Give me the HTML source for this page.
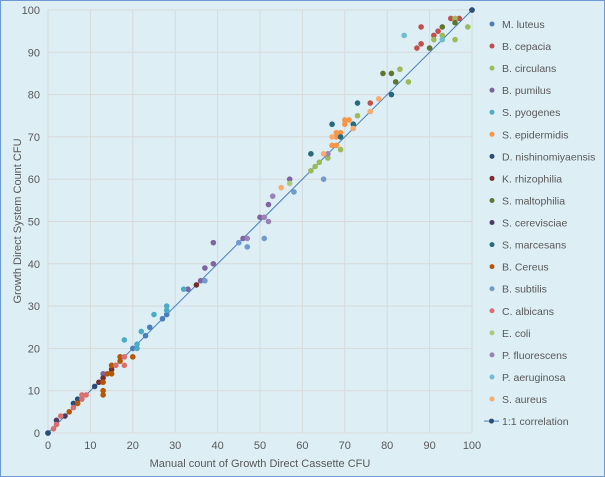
<!DOCTYPE html>
<html><head><meta charset="utf-8"><style>
html,body{margin:0;padding:0;}
body{width:605px;height:477px;overflow:hidden;background:#ddeef5;font-family:"Liberation Sans",sans-serif;}
#frame{position:absolute;left:0;top:0;width:603px;height:475px;border:1px solid #6d9ad0;background:#ddeef5;}
</style></head><body>
<div id="frame"></div>
<svg id="chart" width="605" height="477" style="position:absolute;left:0;top:0"></svg>
<script>
const xTicks=[0,10,20,30,40,50,60,70,80,90,100];
const yTicks=[0,10,20,30,40,50,60,70,80,90,100];
const seriesNames=["M. luteus","B. cepacia","B. circulans","B. pumilus","S. pyogenes","S. epidermidis","D. nishinomiyaensis","K. rhizophilia","S. maltophilia","S. cerevisciae","S. marcesans","B. Cereus","B. subtilis","C. albicans","E. coli","P. fluorescens","P. aeruginosa","S. aureus"];
const seriesColors=["#4a7ebb","#c0504d","#9bbb59","#8064a2","#4bacc6","#f79646","#2c4d75","#772c2a","#5f7530","#4d3b62","#276a7c","#b65708","#729aca","#d9706e","#afc97a","#9983b5","#6fbdd1","#f9ab6b"];
const seriesX=[
[20,23,24,27,28,100],
[95,97,88,91,92,88,87,76],
[96,99,93,91,96,83,85,73,69,64,63,62,66],
[13,33,36,37,39,39,46,50,52,57],
[18,21,21,22,25,28,28,32],
[70,71,70,68,69,68,67,68],
[6,7,11],
[12,13,15,35],
[93,96,90,79,81,82],
[0,2,4],
[81,73,72,67,69,62],
[5,7,13,13,13,14,15,15,17,17,20],
[37,45,47,51,58,65],
[1.3,2,3,6,8,8,9,16,18,18],
[57],
[47,51,52,53,66],
[84,93],
[55,78,76,72,67,65]
];
const seriesY=[
[20,23,25,27,28,100],
[98,98,96,94,95,92,91,78],
[98,96,94,93,93,86,83,75,67,64,63,62,65],
[14,34,36,39,40,45,46,51,54,60],
[22,20,21,24,28,29,30,34],
[74,74,73,71,71,70,68,68],
[7,8,11],
[12,13,15,35],
[96,97,91,85,85,83],
[0,3,4],
[80,78,73,73,70,66],
[5,7,12,10,9,14,14,16,17,18,18],
[36,45,44,46,57,60],
[1,2,4,6,8,9,9,16,18,16],
[59],
[46,51,50,56,66],
[94,93],
[58,79,76,72,70,66]
];
const L=48,R=472,T=10,B=433;
const sx=v=>L+(R-L)*v/100, sy=v=>B-(B-T)*v/100;
const svg=document.getElementById('chart');const NS="http://www.w3.org/2000/svg";
function el(t,a,p){const e=document.createElementNS(NS,t);for(const k in a)e.setAttribute(k,a[k]);(p||svg).appendChild(e);return e;}
const grid=el('g',{});
xTicks.forEach(v=>{if(v>0){const l=el('line',{x1:sx(v),x2:sx(v),y1:T,y2:B,stroke:'#d9d9d9','stroke-width':1},grid);}
 const t=el('text',{x:sx(v),y:449,'text-anchor':'middle','font-size':11,fill:'#595959'});t.textContent=v;});
yTicks.forEach(v=>{if(v>0){const l=el('line',{x1:L,x2:R,y1:sy(v),y2:sy(v),stroke:'#d9d9d9','stroke-width':1},grid);}
 const t=el('text',{x:40,y:sy(v)+4,'text-anchor':'end','font-size':11,fill:'#595959'});t.textContent=v;});
const ax=el('line',{x1:L,x2:R,y1:B,y2:B,stroke:'#d9d9d9'});
const ay=el('line',{x1:L,x2:L,y1:T,y2:B,stroke:'#d9d9d9'});
const xt=el('text',{x:260,y:467,'text-anchor':'middle','font-size':11,fill:'#595959'});xt.textContent='Manual count of Growth Direct Cassette CFU';
const yt=el('text',{x:0,y:0,'text-anchor':'middle','font-size':11,fill:'#595959',transform:'translate(21,221) rotate(-90)'});yt.textContent='Growth Direct System Count CFU';
const line=el('line',{x1:sx(0),y1:sy(0),x2:sx(100),y2:sy(100),stroke:'#4a7ebb','stroke-width':1});
seriesNames.forEach((n,i)=>{const g=el('g',{fill:seriesColors[i]});
 seriesX[i].forEach((x,j)=>{const c=el('circle',{cx:sx(x),cy:sy(seriesY[i][j]),r:2.8},g);});});
[0,100].forEach(v=>{const c=el('circle',{cx:sx(v),cy:sy(v),r:2.8,fill:'#2c4d75'});});
const leg=el('g',{});
seriesNames.forEach((n,i)=>{const y=24+i*22.06;const c=el('circle',{cx:492,cy:y,r:2.5,fill:seriesColors[i]},leg);
 const t=el('text',{x:502,y:y+4,'font-size':10.5,fill:'#595959'},leg);t.textContent=n;});
const ly=24+18*22.06;
const ll=el('line',{x1:484,x2:499,y1:ly,y2:ly,stroke:'#4a7ebb'},leg);
const lc=el('circle',{cx:491.5,cy:ly,r:2.5,fill:'#2c4d75'},leg);
const lt=el('text',{x:502,y:ly+4,'font-size':10.5,fill:'#595959'},leg);lt.textContent='1:1 correlation';
</script>
</body></html>
